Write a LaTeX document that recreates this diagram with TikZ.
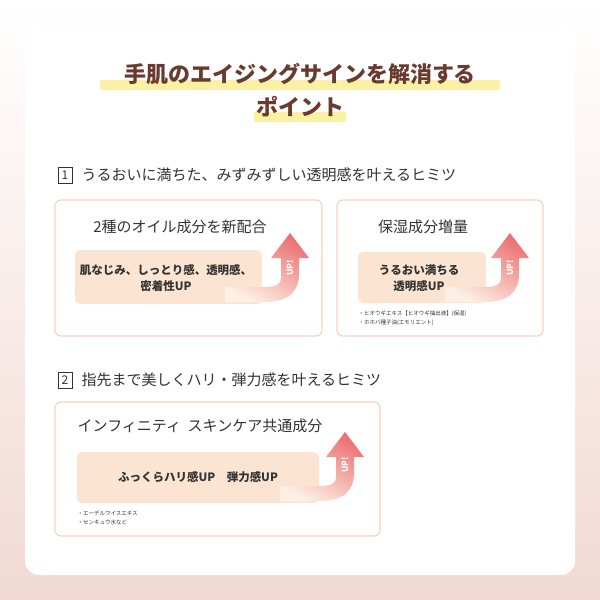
\documentclass[tikz,border=0pt]{standalone}
\usepackage{fontspec}
\setmainfont{Noto Sans CJK JP}
\usetikzlibrary{shadings}
\definecolor{brown}{HTML}{6B3A2E}
\definecolor{txt}{HTML}{333333}
\definecolor{cardline}{HTML}{F6D2C4}
\definecolor{inner}{HTML}{FBE5D2}
\definecolor{hl}{HTML}{FBF1A6}
\definecolor{bgbot}{HTML}{F2D9D3}
\definecolor{apink}{HTML}{EC7272}
\tikzset{
 card/.style={draw=cardline,line width=1.2pt,fill=white,rounded corners=6pt},
 innerbox/.style={fill=inner,rounded corners=5pt},
 ctitle/.style={text=txt,font=\fontsize{15}{18}\selectfont},
 itext/.style={text=txt,font=\fontsize{11.5}{16}\selectfont\bfseries,align=center},
 small/.style={text=txt,font=\fontsize{5.5}{7}\selectfont,anchor=west},
 sec/.style={text=txt,font=\fontsize{15}{18}\selectfont,anchor=west},
 uptext/.style={text=white,font=\fontsize{8.5}{9}\selectfont\bfseries,rotate=90},
}
\newcommand{\uparrowshape}[3]{% cx, tip y, bottom y
 \shade[top color=apink,middle color=apink!75!inner,bottom color=inner!60!white,shading angle=-30]
  (#1-9,#2+25) -- (#1-9,#3-24) .. controls (#1-9,#3-17) and (#1-15,#3-15) .. (#1-25,#3-15)
  -- (#1-65,#3-15) -- (#1-65,#3) -- (#1-25,#3) .. controls (#1-2,#3) and (#1+9,#3-10) .. (#1+9,#3-28)
  -- (#1+9,#2+25) -- (#1+19,#2+25) -- (#1,#2) -- (#1-19,#2+25) -- cycle;}
\begin{document}
\begin{tikzpicture}[x=1pt,y=-1pt]
\useasboundingbox (0,0) rectangle (600,600);
\shade[top color=white,bottom color=bgbot] (0,0) rectangle (600,600);
\fill[white,rounded corners=14pt] (25,25) rectangle (575,575);
% title
\fill[hl] (100,80) rectangle (500,90);
\fill[hl] (254,112) rectangle (346,122);
\node[text=brown,font=\fontsize{22}{26}\selectfont\bfseries] (t1) at (300,74) {手肌のエイジングサインを解消する};
\node[text=brown,font=\fontsize{22}{26}\selectfont\bfseries] (t2) at (300,107) {ポイント};
% section 1
\node[draw=txt,line width=0.6pt,inner sep=0pt,minimum width=14pt,minimum height=16pt,text=txt,font=\fontsize{12}{14}\selectfont] (n1) at (65,175) {1};
\node[sec] (s1) at (78,175) {うるおいに満ちた、みずみずしい透明感を叶えるヒミツ};
\draw[card] (55,200) rectangle (322,336);
\node[ctitle] (c1t) at (180,227) {2種のオイル成分を新配合};
\fill[innerbox] (75,250) rectangle (262,304);
\uparrowshape{290}{233}{302}
\node[itext] (c1i) at (166,278) {肌なじみ、しっとり感、透明感、\\密着性UP};
\node[uptext] (u1) at (290,268) {UP!};
\draw[card] (337,200) rectangle (543,336);
\node[ctitle] (c2t) at (423,227) {保湿成分増量};
\fill[innerbox] (358,252) rectangle (486,303);
\uparrowshape{510}{233}{302}
\node[itext] (c2i) at (419,278) {うるおい満ちる\\透明感UP};
\node[uptext] (u2) at (510,268) {UP!};
\node[small] (c2s1) at (355,314) {・ヒオウギエキス【ヒオウギ抽出液】(保湿)};
\node[small] (c2s2) at (355,323) {・ホホバ種子油(エモリエント)};
% section 2
\node[draw=txt,line width=0.6pt,inner sep=0pt,minimum width=14pt,minimum height=16pt,text=txt,font=\fontsize{12}{14}\selectfont] (n2) at (65,380) {2};
\node[sec] (s2) at (78,380) {指先まで美しくハリ・弾力感を叶えるヒミツ};
\draw[card] (55,402) rectangle (380,536);
\node[ctitle] (c3t) at (200,426) {インフィニティ\ \ スキンケア共通成分};
\fill[innerbox] (77,452) rectangle (319,503);
\uparrowshape{345}{432}{501}
\node[itext] (c3i) at (198,477) {ふっくらハリ感UP\quad 弾力感UP};
\node[uptext] (u3) at (345,465) {UP!};
\node[small] (c3s1) at (74,513) {・エーデルワイスエキス};
\node[small] (c3s2) at (74,522) {・センキュウ水など};
\end{tikzpicture}
\end{document}
